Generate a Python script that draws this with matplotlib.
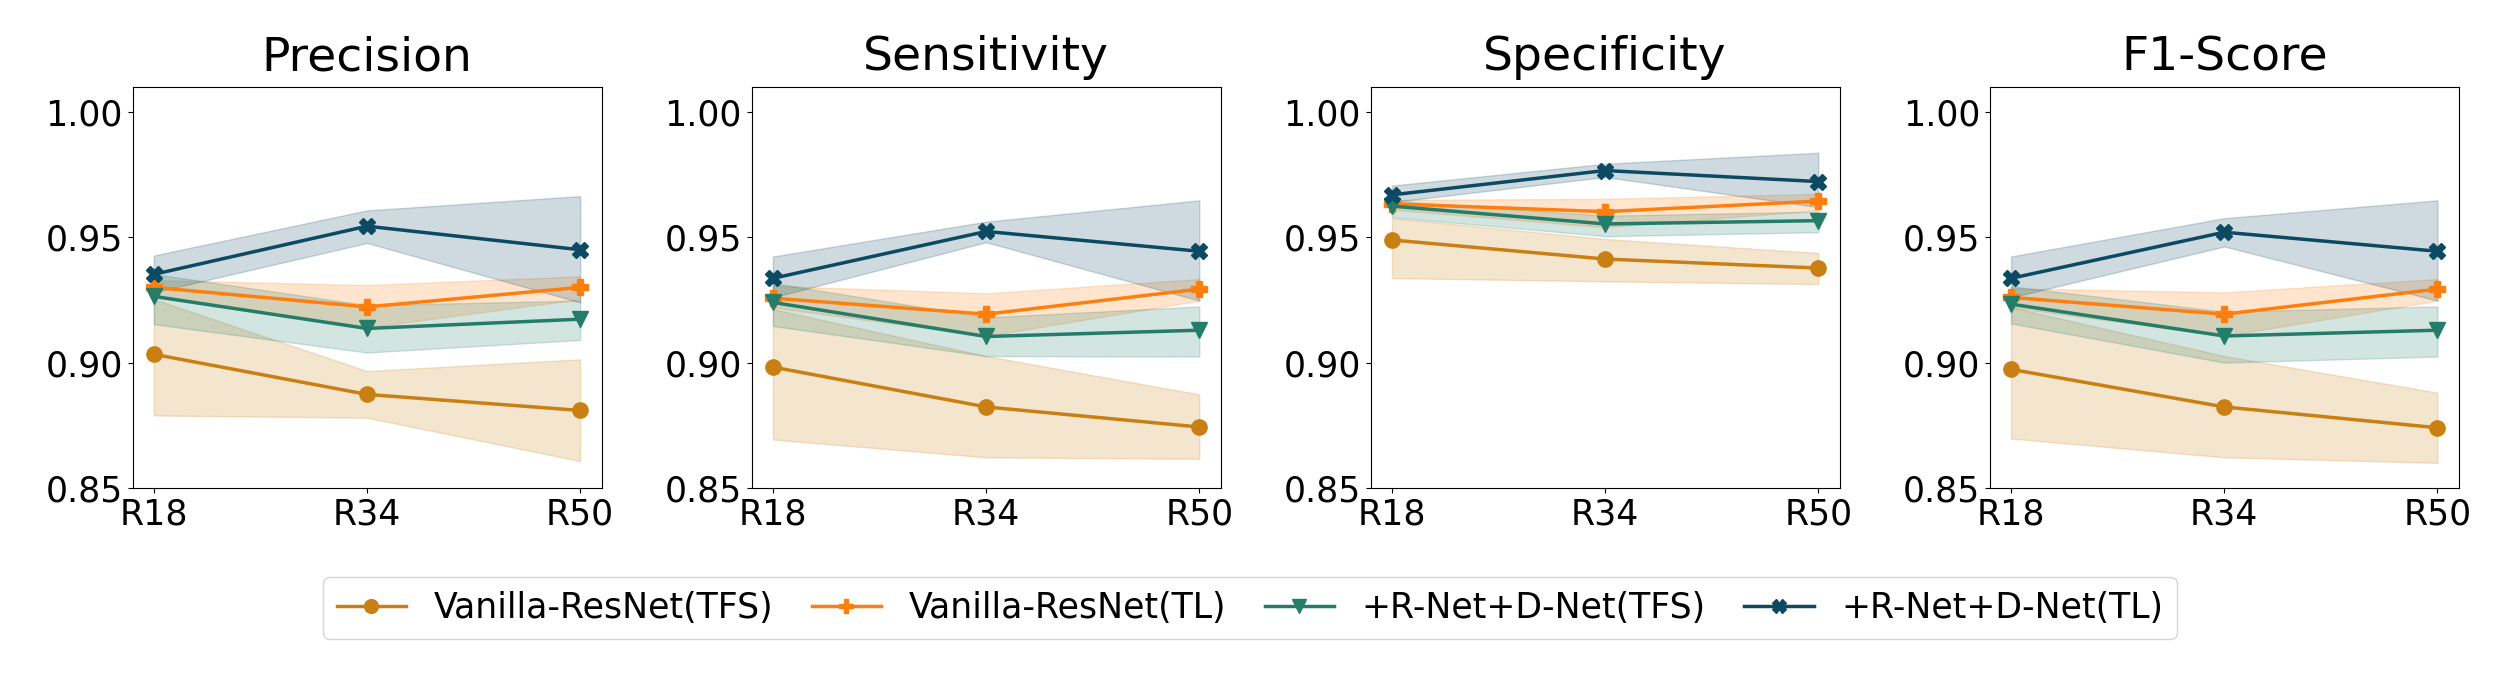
import matplotlib
matplotlib.use("Agg")
import matplotlib.pyplot as plt
import numpy as np

# backbones on the x axis
models = ["R18", "R34", "R50"]
metrics = ["Precision", "Sensitivity", "Specificity", "F1-Score"]
methods = ["Vanilla-ResNet(TFS)", "Vanilla-ResNet(TL)", "+R-Net+D-Net(TFS)", "+R-Net+D-Net(TL)"]

# mean values, one list per metric, rows = methods
precision_mean = [[0.9033, 0.8873, 0.8809],
                  [0.9300, 0.9222, 0.9300],
                  [0.9264, 0.9136, 0.9173],
                  [0.9352, 0.9544, 0.9450]]
precision_low = [[0.8789, 0.8780, 0.8607],
                 [0.9260, 0.9140, 0.9253],
                 [0.9153, 0.9040, 0.9090],
                 [0.9280, 0.9477, 0.9240]]
precision_high = [[0.9253, 0.8966, 0.9013],
                  [0.9329, 0.9309, 0.9344],
                  [0.9353, 0.9229, 0.9247],
                  [0.9427, 0.9607, 0.9664]]

sensitivity_mean = [[0.8982, 0.8823, 0.8743],
                    [0.9257, 0.9193, 0.9293],
                    [0.9240, 0.9104, 0.9129],
                    [0.9336, 0.9523, 0.9444]]
sensitivity_low = [[0.8693, 0.8622, 0.8616],
                   [0.9220, 0.9106, 0.9247],
                   [0.9146, 0.9026, 0.9024],
                   [0.9260, 0.9480, 0.9247]]
sensitivity_high = [[0.9213, 0.9026, 0.8873],
                    [0.9306, 0.9276, 0.9333],
                    [0.9317, 0.9180, 0.9224],
                    [0.9423, 0.9562, 0.9647]]

specificity_mean = [[0.9489, 0.9413, 0.9377],
                    [0.9633, 0.9602, 0.9644],
                    [0.9624, 0.9553, 0.9566],
                    [0.9669, 0.9766, 0.9722]]
specificity_low = [[0.9337, 0.9324, 0.9313],
                   [0.9610, 0.9540, 0.9607],
                   [0.9580, 0.9504, 0.9520],
                   [0.9640, 0.9740, 0.9620]]
specificity_high = [[0.9576, 0.9493, 0.9437],
                    [0.9649, 0.9653, 0.9673],
                    [0.9646, 0.9586, 0.9602],
                    [0.9706, 0.9793, 0.9837]]

f1_mean = [[0.8973, 0.8823, 0.8740],
           [0.9260, 0.9193, 0.9293],
           [0.9233, 0.9106, 0.9129],
           [0.9336, 0.9520, 0.9444]]
f1_low = [[0.8697, 0.8622, 0.8600],
          [0.9220, 0.9106, 0.9247],
          [0.9156, 0.9000, 0.9024],
          [0.9260, 0.9463, 0.9247]]
f1_high = [[0.9220, 0.9026, 0.8880],
           [0.9296, 0.9280, 0.9333],
           [0.9304, 0.9203, 0.9224],
           [0.9423, 0.9576, 0.9647]]

colors = ["#c97f12", "#ff7f0e", "#237d69", "#0b4a62"]
markers = ["o", "P", "v", "X"]

all_means = [precision_mean, sensitivity_mean, specificity_mean, f1_mean]
all_low = [precision_low, sensitivity_low, specificity_low, f1_low]
all_high = [precision_high, sensitivity_high, specificity_high, f1_high]

fig, axes = plt.subplots(1, 4, figsize=(25, 7), dpi=100)
plt.subplots_adjust(left=0.053, right=0.9835, top=0.876, bottom=0.303, wspace=0.32)

x = np.arange(len(models))
for k, ax in enumerate(axes):
    for i in range(len(methods)):
        ax.fill_between(x, all_low[k][i], all_high[k][i], color=colors[i], alpha=0.2)
        ax.plot(x, all_means[k][i], color=colors[i], marker=markers[i],
                markersize=11, linewidth=2.5, label=methods[i])
    ax.set_title(metrics[k], fontsize=34, pad=12)
    ax.set_ylim(0.85, 1.01)
    ax.set_yticks([0.85, 0.90, 0.95, 1.00])
    ax.set_xticks(x)
    ax.set_xticklabels(models)
    ax.tick_params(labelsize=25)

handles, labels = axes[0].get_legend_handles_labels()
fig.legend(handles, labels, loc="upper center", bbox_to_anchor=(0.5, 0.2),
           ncol=4, fontsize=25, markerscale=0.9, columnspacing=1.1)

plt.savefig("out.png")
